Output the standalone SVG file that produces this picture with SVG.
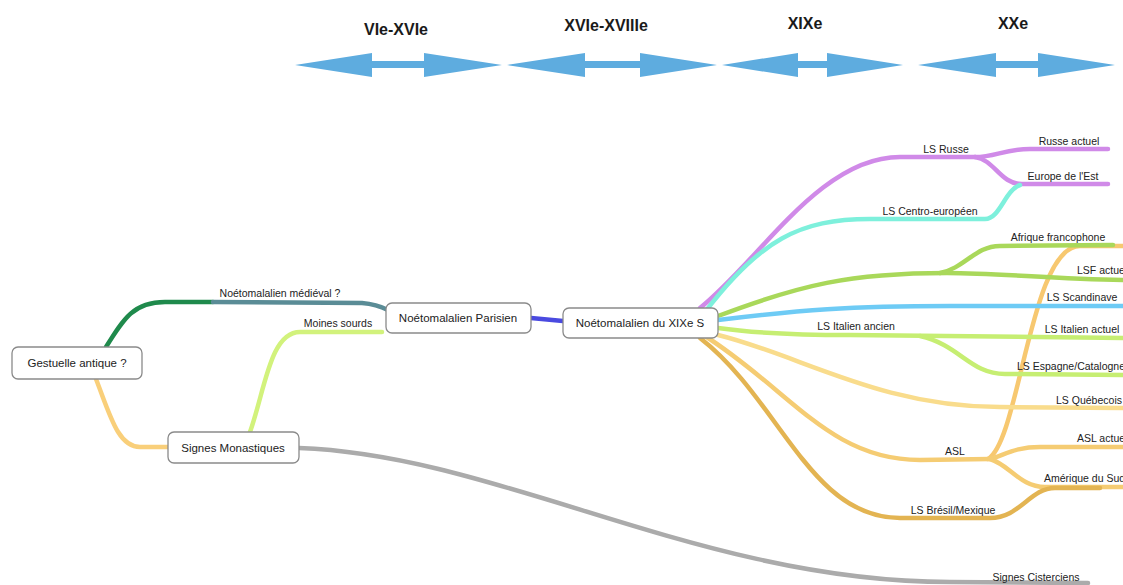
<svg xmlns="http://www.w3.org/2000/svg" width="1123" height="585" viewBox="0 0 1123 585">
<style>
.bg{fill:#ffffff}
.arr{fill:#5eacdf}
.era{font-family:"Liberation Sans",Arial,sans-serif;font-size:16px;font-weight:bold;fill:#1a1a1a;text-anchor:middle}
.e{fill:none;stroke-width:4.5;stroke-linecap:round;stroke-linejoin:round}
.box{fill:#ffffff;stroke:#8a8a8a;stroke-width:1.3}
.nt{font-family:"Liberation Sans",Arial,sans-serif;font-size:11.5px;fill:#222;text-anchor:middle}
.lb{font-family:"Liberation Sans",Arial,sans-serif;font-size:10.5px;fill:#222;text-anchor:middle}
.ls{text-anchor:start}
</style>
<rect class="bg" x="0" y="0" width="1123" height="585"/>
<g id="timeline">
<polygon class="arr" points="295,65 372,53 372,61 424,61 424,53 502,65 424,77 424,68 372,68 372,77"/>
<polygon class="arr" points="507,65 585,53 585,61 640,61 640,53 717,65 640,77 640,68 585,68 585,77"/>
<polygon class="arr" points="722,65 798,53 798,61 827,61 827,53 903,65 827,77 827,68 798,68 798,77"/>
<polygon class="arr" points="918,65 996,53 996,61 1038,61 1038,53 1115,65 1038,77 1038,68 996,68 996,77"/>
<text class="era" x="396" y="35">VIe-XVIe</text>
<text class="era" x="606" y="31">XVIe-XVIIIe</text>
<text class="era" x="805" y="29">XIXe</text>
<text class="era" x="1013" y="29">XXe</text>
</g>
<g id="connectors">
<path class="e" stroke="#1f8a4c" d="M106,347 C124,318 134,302 165,302 L213,302"/>
<path class="e" stroke="#5a8c96" d="M213,302 L362,303 C374,304 380,306 388,310"/>
<path class="e" stroke="#f9cf7a" d="M96,379 C110,415 118,447 140,447 L168,447"/>
<path class="e" stroke="#d2f27c" d="M250,432 C265,390 270,332 300,332 L382,332"/>
<path class="e" stroke="#4a4ae0" d="M531,318 L563,321"/>
<path class="e" stroke="#ababab" d="M299,448 C500,455 700,582 950,582 L1088,583"/>
<path class="e" stroke="#f7c870" d="M988,459 C1020,440 1030,246 1080,246 L1123,246"/>
<path class="e" stroke="#d08ae8" d="M700,308 C760,260 820,157 900,157 L975,157"/>
<path class="e" stroke="#d08ae8" d="M975,157 C995,157 1005,149 1030,149 L1108,149"/>
<path class="e" stroke="#d08ae8" d="M975,157 C995,160 1000,184 1022,184 L1108,184"/>
<path class="e" stroke="#7ef0dc" d="M705,312 C760,240 800,219 870,219 L985,219 C1000,219 1005,190 1020,185"/>
<path class="e" stroke="#a9d85a" d="M718,316 C800,285 850,273 947,273 C1000,273 1050,279 1123,280"/>
<path class="e" stroke="#a9d85a" d="M940,273 C965,268 975,246 1000,246 L1113,245"/>
<path class="e" stroke="#6ecbf5" d="M718,320 C800,310 850,306 950,306 L1123,306"/>
<path class="e" stroke="#c6ee72" d="M718,328 C760,334 800,335 850,335 L1123,338"/>
<path class="e" stroke="#c6ee72" d="M920,336 C960,345 970,374 1005,374 L1123,375"/>
<path class="e" stroke="#f9dc8c" d="M718,335 C800,355 880,407 1000,407 L1123,408"/>
<path class="e" stroke="#f5cc73" d="M705,336 C790,390 830,460 920,460 L990,459"/>
<path class="e" stroke="#f5cc73" d="M990,459 C1005,455 1015,447 1040,447 L1123,447"/>
<path class="e" stroke="#f5cc73" d="M990,459 C1010,465 1020,487 1045,487 L1123,487"/>
<path class="e" stroke="#e3b452" d="M700,338 C780,400 810,518 900,518 L990,518 C1020,518 1030,488 1055,488 L1100,488"/>
</g>
<g id="edge-labels">
<text class="lb" x="280" y="297">Noétomalalien médiéval ?</text>
<text class="lb" x="338" y="327">Moines sourds</text>
<text class="lb" x="946" y="153">LS Russe</text>
<text class="lb" x="1069" y="145">Russe actuel</text>
<text class="lb" x="1063" y="180">Europe de l'Est</text>
<text class="lb" x="930" y="215">LS Centro-européen</text>
<text class="lb" x="1058" y="241">Afrique francophone</text>
<text class="lb ls" x="1077" y="274">LSF actuel</text>
<text class="lb" x="1082" y="301">LS Scandinave</text>
<text class="lb" x="856" y="330">LS Italien ancien</text>
<text class="lb" x="1082" y="333">LS Italien actuel</text>
<text class="lb ls" x="1017" y="370">LS Espagne/Catalogne</text>
<text class="lb" x="1089" y="404">LS Québecois</text>
<text class="lb ls" x="1077" y="442">ASL actuel</text>
<text class="lb" x="955" y="455">ASL</text>
<text class="lb ls" x="1044" y="482">Amérique du Sud</text>
<text class="lb" x="953" y="514">LS Brésil/Mexique</text>
<text class="lb" x="1036" y="581">Signes Cisterciens</text>
</g>
<g id="node-gestuelle">
<rect class="box" x="12" y="347" width="130" height="32" rx="6"/>
<text class="nt" x="77" y="367">Gestuelle antique ?</text>
</g>
<g id="node-signes">
<rect class="box" x="168" y="432" width="131" height="31" rx="6"/>
<text class="nt" x="233" y="452">Signes Monastiques</text>
</g>
<g id="node-parisien">
<rect class="box" x="386" y="303" width="145" height="30" rx="6"/>
<text class="nt" x="458" y="322">Noétomalalien Parisien</text>
</g>
<g id="node-xixe">
<rect class="box" x="563" y="308" width="155" height="30" rx="6"/>
<text class="nt" x="640" y="327">Noétomalalien du XIXe S</text>
</g>
</svg>
